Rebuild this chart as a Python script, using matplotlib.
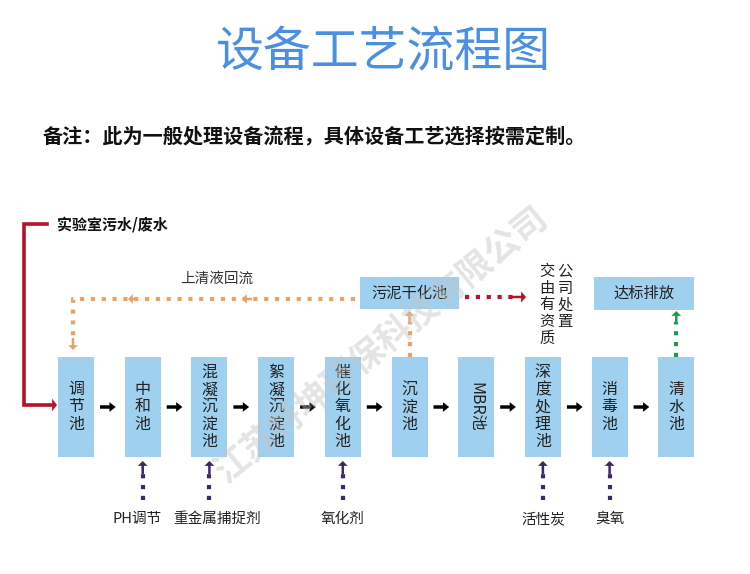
import matplotlib.pyplot as plt
from matplotlib.patches import Rectangle

plt.rcParams['font.family'] = ['Noto Sans CJK SC', 'DejaVu Sans']

title = '设备工艺流程图'
note = '备注：此为一般处理设备流程，具体设备工艺选择按需定制。'
source = '实验室污水/废水'
tanks = ['调节池', '中和池', '混凝沉淀池', '絮凝沉淀池', '催化氧化池',
         '沉淀池', 'MBR池', '深度处理池', '消毒池', '清水池']
dose_tanks = [1, 2, 4, 7, 8]
dose_labels = ['PH调节', '重金属捕捉剂', '氧化剂', '活性炭', '臭氧']
sludge = '污泥干化池'
disposal = ['交由有资质', '公司处置']
discharge = '达标排放'
recycle = '上清液回流'
watermark = '江苏特坤环保科技有限公司'

BLUE = '#9fd0ef'
ORANGE = '#e9a465'
DRED = '#b5122b'
GREEN = '#1a9a55'
PURPLE = '#3b2868'

fig = plt.figure(figsize=(7.5, 5.74), dpi=100)
ax = fig.add_axes([0, 0, 1, 1])
ax.set_xlim(0, 750)
ax.set_ylim(574, 0)
ax.axis('off')


def head(x0, y0, x1, y1, color, w=0.35):
    ax.annotate('', xy=(x1, y1), xytext=(x0, y0),
                arrowprops=dict(arrowstyle='simple,head_width=%s,head_length=0.35,tail_width=0.18' % (w * 2),
                                color=color, shrinkA=0, shrinkB=0, lw=0))


def dotted(xs, ys, color):
    ax.plot(xs, ys, color=color, lw=3, linestyle=(0, (1, 1.6)),
            dash_capstyle='butt', solid_capstyle='butt')


ax.text(383, 53, title, ha='center', va='center', fontsize=34.5, fontweight='medium',
        color='#4a8fe0')
ax.text(43, 137, note, ha='left', va='center', fontsize=14.5, fontweight='bold', color='#111111')

# tanks
x0, step, bw, top, bh = 58, 66.7, 36, 357, 100
cx = []
for i, name in enumerate(tanks):
    left = x0 + i * step
    cx.append(left + bw / 2)
    ax.add_patch(Rectangle((left, top), bw, bh, color=BLUE, lw=0))
    if name.startswith('MBR'):
        ax.text(left + bw / 2, top + bh / 2, name, rotation=-90, ha='center', va='center',
                fontsize=11.5, color='#222222')
    else:
        ax.text(left + bw / 2, top + bh / 2, '\n'.join(name), ha='center', va='center',
                fontsize=11.5, color='#222222', linespacing=1.02)
    if i < len(tanks) - 1:
        ax.annotate('', xy=(left + step - 9, 407), xytext=(left + bw + 6, 407),
                    arrowprops=dict(arrowstyle='simple,head_width=0.7,head_length=0.45,tail_width=0.25',
                                    color='black', shrinkA=0, shrinkB=0, lw=0))

# inlet
ax.plot([47, 24, 24, 50], [224, 224, 405, 405], color=DRED, lw=2.6, solid_joinstyle='miter')
head(48, 405, 57, 405, DRED, 0.45)
ax.text(57, 224, source, ha='left', va='center', fontsize=10.8, fontweight='bold', color='#111111')

# sludge / recycle
ax.add_patch(Rectangle((360, 277), 99, 32, color=BLUE, lw=0))
ax.text(409.5, 293, sludge, ha='center', va='center', fontsize=11, color='#222222')
dotted([355, 73, 73], [299, 299, 340], ORANGE)
head(138, 299, 128, 299, ORANGE)
head(252, 299, 242, 299, ORANGE)
head(73, 338, 73, 350, ORANGE)
ax.text(217, 279, recycle, ha='center', va='center', fontsize=10.5, color='#333333')
dotted([cx[5], cx[5]], [357, 322], ORANGE)
head(cx[5], 324, cx[5], 311, ORANGE)

dotted([465, 515], [297, 297], DRED)
head(512, 297, 526, 297, DRED, 0.4)
ax.text(547, 263, '\n'.join(disposal[0]), ha='center', va='top', fontsize=11,
        color='#222222', linespacing=0.98)
ax.text(565, 263, '\n'.join(disposal[1]), ha='center', va='top', fontsize=11,
        color='#222222', linespacing=0.98)

# discharge
ax.add_patch(Rectangle((594, 277), 100, 33, color=BLUE, lw=0))
ax.text(644, 293.5, discharge, ha='center', va='center', fontsize=11, color='#222222')
dotted([cx[9], cx[9]], [357, 322], GREEN)
head(cx[9], 324, cx[9], 311, GREEN)

# dosing
label_shift = {0: -6, 1: 8}
for k, (t, lab) in enumerate(zip(dose_tanks, dose_labels)):
    dotted([cx[t], cx[t]], [500, 472], PURPLE)
    head(cx[t], 474, cx[t], 461, PURPLE)
    ax.text(cx[t] + label_shift.get(k, 0), 519, lab, ha='center', va='center',
            fontsize=10.5, color='#222222')

ax.text(382, 345, watermark, rotation=39, ha='center', va='center', fontsize=25,
        fontweight='bold', color='#c4c4c4', alpha=0.45, zorder=10)

fig.savefig('out.png', dpi=100)
